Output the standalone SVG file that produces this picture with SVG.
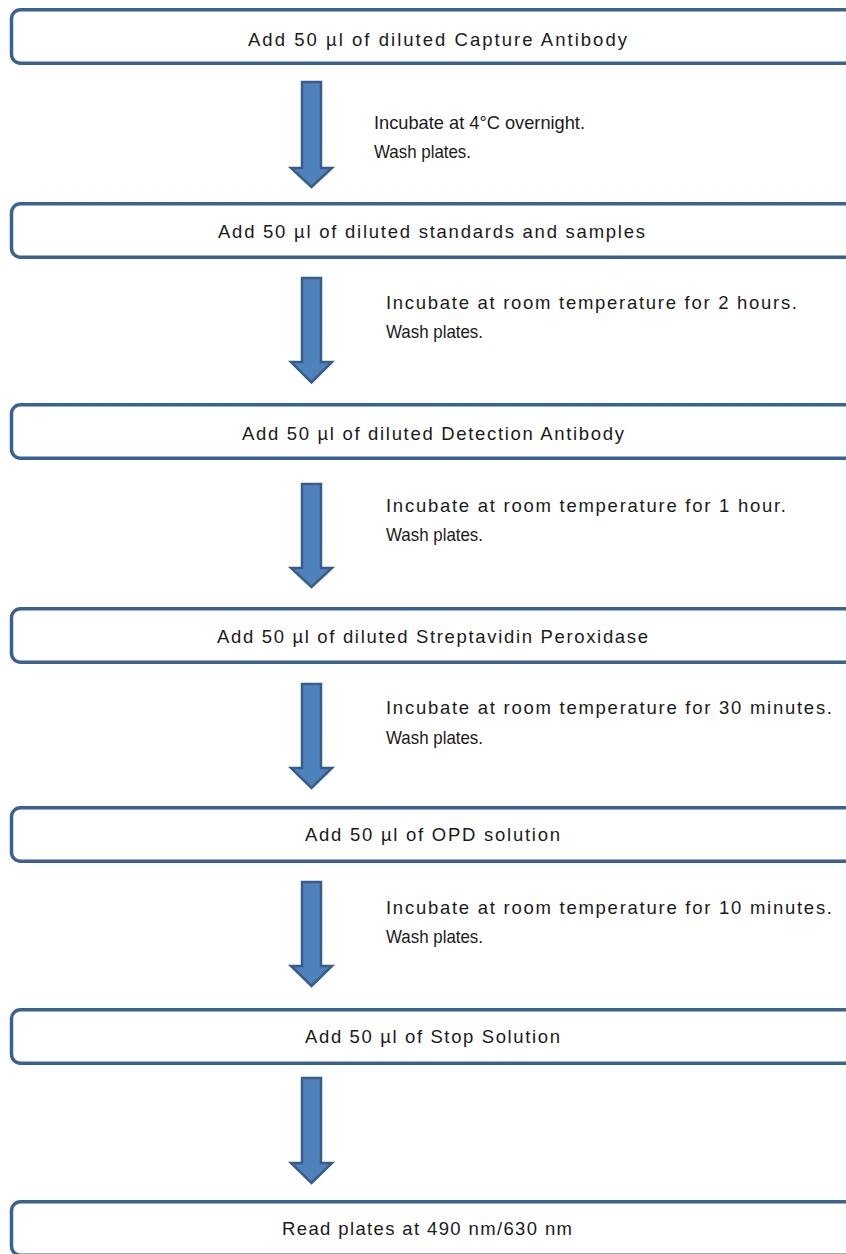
<svg xmlns="http://www.w3.org/2000/svg" width="846" height="1254" viewBox="0 0 846 1254">
<style>
.box{fill:#ffffff;stroke:#3b6190;stroke-width:3.5}
.arr{fill:#4f81bd;stroke:#385d8a;stroke-width:2.5;stroke-linejoin:miter}
.t{font-family:"Liberation Sans",Arial,sans-serif;font-size:18.5px;fill:#1a1a1a}
.c{text-anchor:middle}
</style>
<rect width="846" height="1254" fill="#ffffff"/>
<g id="connectors">
<path class="arr" d="M302,82 H321 V168 H332 L311.5,187 L291,168 H302 Z"/>
<path class="arr" d="M302,278 H321 V362 H332 L311.5,382.5 L291,362 H302 Z"/>
<path class="arr" d="M302,484 H321 V568 H332 L311.5,587 L291,568 H302 Z"/>
<path class="arr" d="M302,684 H321 V768 H332 L311.5,788 L291,768 H302 Z"/>
<path class="arr" d="M302,882 H321 V966 H332 L311.5,986 L291,966 H302 Z"/>
<path class="arr" d="M302,1078 H321 V1163 H332 L311.5,1183 L291,1163 H302 Z"/>
<text class="t" x="374" y="128.5" textLength="211" lengthAdjust="spacingAndGlyphs">Incubate at 4°C overnight.</text>
<text class="t" x="374" y="158" textLength="97" lengthAdjust="spacingAndGlyphs">Wash plates.</text>
<text class="t" x="386" y="308.5" textLength="411" lengthAdjust="spacing">Incubate at room temperature for 2 hours.</text>
<text class="t" x="386" y="337.5" textLength="97" lengthAdjust="spacingAndGlyphs">Wash plates.</text>
<text class="t" x="386" y="512" textLength="400" lengthAdjust="spacing">Incubate at room temperature for 1 hour.</text>
<text class="t" x="386" y="541" textLength="97" lengthAdjust="spacingAndGlyphs">Wash plates.</text>
<text class="t" x="386" y="714" textLength="446" lengthAdjust="spacing">Incubate at room temperature for 30 minutes.</text>
<text class="t" x="386" y="743.5" textLength="97" lengthAdjust="spacingAndGlyphs">Wash plates.</text>
<text class="t" x="386" y="913.5" textLength="446" lengthAdjust="spacing">Incubate at room temperature for 10 minutes.</text>
<text class="t" x="386" y="943" textLength="97" lengthAdjust="spacingAndGlyphs">Wash plates.</text>
</g>
<g id="n1"><rect class="box" x="11.5" y="9.75" width="870" height="53.5" rx="9"/><text class="t c" x="437.5" y="45.5" textLength="379" lengthAdjust="spacing">Add 50 µl of diluted Capture Antibody</text></g>
<g id="n2"><rect class="box" x="11.5" y="203.75" width="870" height="53.5" rx="9"/><text class="t c" x="431.5" y="238" textLength="427" lengthAdjust="spacing">Add 50 µl of diluted standards and samples</text></g>
<g id="n3"><rect class="box" x="11.5" y="404.75" width="870" height="53.5" rx="9"/><text class="t c" x="433" y="440" textLength="382" lengthAdjust="spacing">Add 50 µl of diluted Detection Antibody</text></g>
<g id="n4"><rect class="box" x="11.5" y="608.75" width="870" height="53.5" rx="9"/><text class="t c" x="432.5" y="642.5" textLength="431" lengthAdjust="spacing">Add 50 µl of diluted Streptavidin Peroxidase</text></g>
<g id="n5"><rect class="box" x="11.5" y="807.75" width="870" height="53.5" rx="9"/><text class="t c" x="432.5" y="841" textLength="255" lengthAdjust="spacing">Add 50 µl of OPD solution</text></g>
<g id="n6"><rect class="box" x="11.5" y="1009.75" width="870" height="53.5" rx="9"/><text class="t c" x="432.5" y="1042.5" textLength="255" lengthAdjust="spacing">Add 50 µl of Stop Solution</text></g>
<g id="n7"><rect class="box" x="11.5" y="1201.75" width="870" height="53.5" rx="9"/><text class="t c" x="427" y="1235" textLength="290" lengthAdjust="spacing">Read plates at 490 nm/630 nm</text></g>
</svg>
